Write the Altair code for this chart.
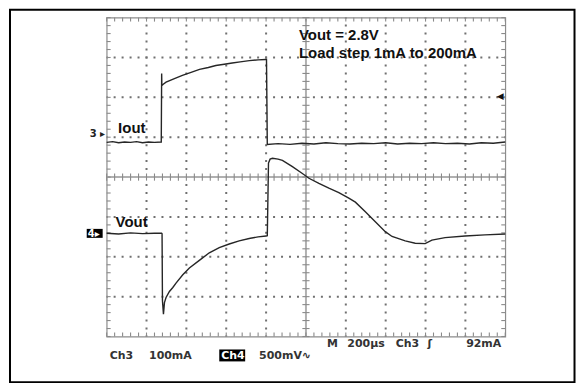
import altair as alt
import pandas as pd

# ---- trace data (time and level in screen divisions: 200us/div, centre = 0) ----
iout_t = [0.0, 0.15, 0.3, 0.45, 0.6, 0.75, 0.9, 1.05, 1.2, 1.37, 1.38, 1.385, 1.39, 1.42, 1.49,
          1.7, 1.9, 2.1, 2.33, 2.55, 2.74, 2.95, 3.15, 3.35, 3.58, 3.8, 3.99, 4.01, 4.03,
          4.3, 4.6, 4.9, 5.2, 5.5, 5.8, 6.1, 6.4, 6.7, 7.0, 7.3, 7.6, 7.9, 8.2, 8.5, 8.8,
          9.1, 9.4, 9.7, 10.0]
iout_v = [0.87, 0.89, 0.86, 0.88, 0.87, 0.89, 0.86, 0.88, 0.87, 0.88, 2.6, 2.3, 2.3, 2.33, 2.38,
          2.47, 2.55, 2.62, 2.7, 2.75, 2.8, 2.83, 2.86, 2.89, 2.92, 2.94, 2.95, 2.95, 0.82,
          0.84, 0.82, 0.85, 0.83, 0.86, 0.84, 0.83, 0.85, 0.84, 0.86, 0.83, 0.85, 0.84, 0.86,
          0.84, 0.85, 0.83, 0.86, 0.85, 0.88]

vout_t = [0.0, 0.3, 0.6, 0.9, 1.2, 1.38, 1.39, 1.40, 1.425, 1.45, 1.49, 1.575, 1.66, 1.74, 1.91,
          2.075, 2.325, 2.575, 2.825, 3.075, 3.325, 3.575, 3.8, 4.0, 4.03, 4.06, 4.1, 4.16,
          4.3, 4.41, 4.66, 4.91, 5.075, 5.325, 5.575, 5.825, 6.075, 6.24, 6.49, 6.74, 6.99,
          7.16, 7.49, 7.74, 7.99, 8.16, 8.49, 8.99, 9.49, 10.0]
vout_v = [-1.41, -1.43, -1.40, -1.42, -1.41, -1.41, -1.42, -3.1, -3.44, -3.15, -3.02, -2.87, -2.77,
          -2.66, -2.45, -2.28, -2.09, -1.9, -1.77, -1.68, -1.6, -1.54, -1.5, -1.48, -1.47, 0.35,
          0.45, 0.47, 0.45, 0.42, 0.26, 0.09, -0.03, -0.16, -0.28, -0.39, -0.53, -0.63, -0.87,
          -1.12, -1.37, -1.49, -1.6, -1.66, -1.67, -1.58, -1.52, -1.48, -1.45, -1.43]

top_note = ["Vout = 2.8V", "Load step 1mA to 200mA"]
trace_labels = ["Iout", "Vout"]
ch3_scale = "100mA"
ch4_scale = "500mV\u223f"
timebase = ["M", "200\u00b5s", "Ch3", "\u0283", "92mA"]

# graticule divisions
div_x = [1, 2, 3, 4, 6, 7, 8, 9]
div_y = [-3, -2, -1, 1, 2, 3]

rows = []
for i, (t, v) in enumerate(zip(iout_t, iout_v)):
    rows.append({"t": t, "v": v, "s": "Iout", "i": i})
for i, (t, v) in enumerate(zip(vout_t, vout_v)):
    rows.append({"t": t, "v": v, "s": "Vout", "i": i})
traces = pd.DataFrame(rows)

XS = alt.Scale(domain=[0, 10], nice=False, zero=False)
YS = alt.Scale(domain=[-4, 4], nice=False, zero=False)

lines = alt.Chart(traces).mark_line(color="#262626", strokeWidth=1.4).encode(
    x=alt.X("t:Q", scale=XS, axis=None),
    y=alt.Y("v:Q", scale=YS, axis=None),
    detail="s:N",
    order="i:Q",
)

dot_style = dict(color="#707070", strokeWidth=2, strokeDash=[2, 6], strokeDashOffset=1)
grid_v = alt.Chart(pd.DataFrame({"gx": div_x})).mark_rule(**dot_style).encode(
    x=alt.X("gx:Q", scale=XS, axis=None))
grid_h = alt.Chart(pd.DataFrame({"gy": div_y})).mark_rule(**dot_style).encode(
    y=alt.Y("gy:Q", scale=YS, axis=None))

# graticule minor ticks (centre cross lines and edge ticks)
tick_rows = []
for k in range(51):
    mx = k * 0.2
    tick_rows.append({"x": mx, "x2": mx, "y": -0.09, "y2": 0.09})
    tick_rows.append({"x": mx, "x2": mx, "y": -4.0, "y2": -3.9})
    tick_rows.append({"x": mx, "x2": mx, "y": 4.0, "y2": 3.9})
for k in range(41):
    my = -4 + k * 0.2
    tick_rows.append({"x": 4.91, "x2": 5.09, "y": my, "y2": my})
    tick_rows.append({"x": 0.0, "x2": 0.1, "y": my, "y2": my})
    tick_rows.append({"x": 9.9, "x2": 10.0, "y": my, "y2": my})
ticks_df = pd.DataFrame(tick_rows)

minor = alt.Chart(ticks_df).mark_rule(color="#8a8a8a", strokeWidth=1.1).encode(
    x=alt.X("x:Q", scale=XS, axis=None), x2="x2:Q",
    y=alt.Y("y:Q", scale=YS, axis=None), y2="y2:Q")

one = pd.DataFrame({"k": [0]})
centre_h = alt.Chart(one).mark_rule(color="#b0b0b0", strokeWidth=2).encode(
    y=alt.datum(0, scale=YS, axis=None))
centre_v = alt.Chart(one).mark_rule(color="#b0b0b0", strokeWidth=2).encode(
    x=alt.datum(5, scale=XS, axis=None))


def label(text, px, py, size=15, weight="bold", color="#111111", font="Liberation Sans",
          align="left", baseline="alphabetic"):
    return alt.Chart(one).mark_text(text=text, align=align, baseline=baseline, fontSize=size,
                                    fontWeight=weight, font=font, color=color).encode(
        x=alt.value(px), y=alt.value(py))


def box(x1, x2, y1, y2, fill="black", stroke=None, sw=0):
    kw = dict(fill=fill)
    if stroke:
        kw.update(stroke=stroke, strokeWidth=sw, fillOpacity=0)
    return alt.Chart(one).mark_rect(**kw).encode(
        x=alt.value(x1), x2=alt.value(x2), y=alt.value(y1), y2=alt.value(y2))


frame = box(-97, 469.5, -8, 366, fill="white", stroke="black", sw=2)

scope_font = "DejaVu Sans"
layers = [
    frame,
    grid_v, grid_h, centre_h, centre_v, minor, lines,
    label(top_note[0], 193, 22.5),
    label(top_note[1], 193, 40.5),
    label(trace_labels[0], 11.5, 115.5),
    label(trace_labels[1], 9, 210.5),
    label("3 \u25b8", -17, 120, size=10, font=scope_font, color="#222"),
    box(-20, -4, 212, 221),
    label("4\u25b8", -19, 220, size=10, font=scope_font, color="white"),
    label("\u25c0", 395, 79, size=9, font=scope_font, align="center", baseline="middle"),
    label("Ch3", 3, 342.5, size=11, font=scope_font, color="#333"),
    label(ch3_scale, 42.5, 342.5, size=11, font=scope_font, color="#333"),
    box(113, 139, 333, 345),
    label("Ch4", 115, 342.5, size=11, font=scope_font, color="white"),
    label(ch4_scale, 153, 342.5, size=11, font=scope_font, color="#333"),
    label(timebase[0], 221, 331, size=11, font=scope_font, color="#333"),
    label(timebase[1], 241.5, 331, size=11, font=scope_font, color="#333"),
    label(timebase[2], 290, 331, size=11, font=scope_font, color="#333"),
    label(timebase[3], 322, 331, size=11, font=scope_font, color="#333"),
    label(timebase[4], 396, 331, size=11, font=scope_font, color="#333", align="right"),
]

chart = alt.layer(*layers).properties(
    width=400, height=320,
    padding={"left": 99, "top": 9, "right": 73, "bottom": 46},
    autosize=alt.AutoSizeParams(type="none"),
    background="white",
).configure_view(stroke="#8c8c8c", strokeWidth=1.2)

chart.save("out.html", embed_options={"renderer": "svg", "actions": False})
